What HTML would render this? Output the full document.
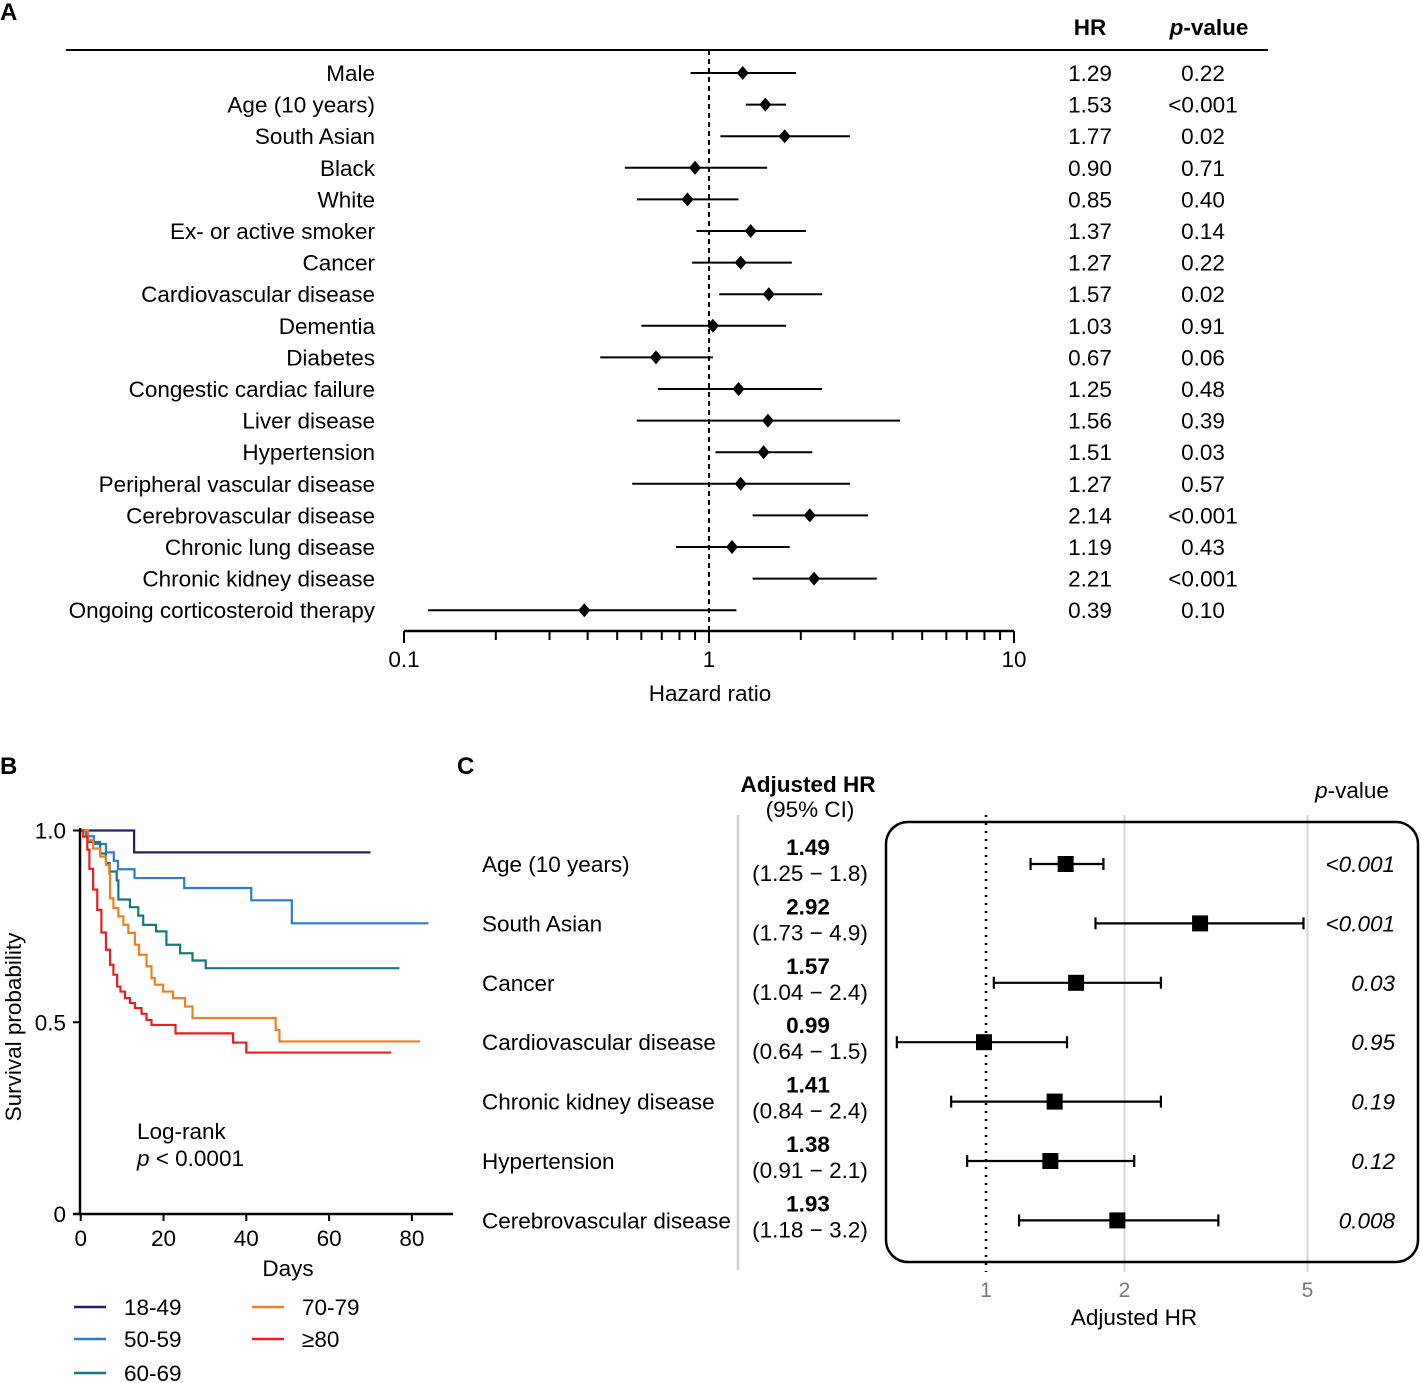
<!DOCTYPE html>
<html><head><meta charset="utf-8"><style>
body{margin:0;background:#fff}
svg{display:block;font-family:"Liberation Sans",Arial,sans-serif}
</style></head><body>
<svg id="fig" width="1421" height="1383" viewBox="0 0 1421 1383" xmlns="http://www.w3.org/2000/svg">
<g id="pa"></g>
<g id="pb"></g>
<g id="pc"></g>
</svg>
<script>
// Panel A data
const aLabels=["Male","Age (10 years)","South Asian","Black","White","Ex- or active smoker","Cancer","Cardiovascular disease","Dementia","Diabetes","Congestic cardiac failure","Liver disease","Hypertension","Peripheral vascular disease","Cerebrovascular disease","Chronic lung disease","Chronic kidney disease","Ongoing corticosteroid therapy"];
const aHR=[1.29,1.53,1.77,0.90,0.85,1.37,1.27,1.57,1.03,0.67,1.25,1.56,1.51,1.27,2.14,1.19,2.21,0.39];
const aLo=[0.87,1.32,1.09,0.53,0.58,0.91,0.88,1.08,0.60,0.44,0.68,0.58,1.05,0.56,1.39,0.78,1.39,0.12];
const aHi=[1.93,1.79,2.9,1.55,1.25,2.08,1.87,2.35,1.79,1.03,2.35,4.23,2.18,2.9,3.32,1.84,3.55,1.23];
const aHRtxt=["1.29","1.53","1.77","0.90","0.85","1.37","1.27","1.57","1.03","0.67","1.25","1.56","1.51","1.27","2.14","1.19","2.21","0.39"];
const aP=["0.22","<0.001","0.02","0.71","0.40","0.14","0.22","0.02","0.91","0.06","0.48","0.39","0.03","0.57","<0.001","0.43","<0.001","0.10"];
const aTicks=[0.1,1,10];

// Panel B data
const bGroups=["18-49","50-59","60-69","70-79","≥80"];
const bColors=["#2b1d5c","#2c7bd0","#15797c","#f07f22","#ee1c1c"];
const bT=[
 [0,12.9,70],
 [0,1.3,3.2,6.1,8,9,13,25,41.2,51,84],
 [0,1.7,4.7,6.1,7,8.7,9.1,11.9,13.9,15.1,18.2,20.7,24,27,30.2,77],
 [0,1.8,3,4.7,6.1,6.9,7.1,7.9,9.1,10.3,11.5,13.1,14.1,15.9,17.1,17.9,19.9,22.3,25.2,27,47.1,48,82],
 [0,0.6,1.6,2.1,3,4,5,6.1,7.1,7.9,8.8,9.6,10.7,11.9,13.1,14.7,15.9,17.1,22.9,36.8,40,75]
];
const bS=[
 [1,0.943,0.943],
 [1,0.985,0.965,0.943,0.921,0.899,0.876,0.85,0.818,0.758,0.758],
 [1,0.97,0.94,0.915,0.893,0.87,0.82,0.8,0.778,0.754,0.737,0.702,0.68,0.661,0.641,0.641],
 [1,0.975,0.953,0.932,0.91,0.888,0.823,0.798,0.776,0.754,0.733,0.702,0.676,0.646,0.615,0.598,0.58,0.563,0.541,0.511,0.48,0.45,0.45],
 [1,0.984,0.95,0.9,0.846,0.793,0.734,0.689,0.65,0.624,0.593,0.58,0.563,0.55,0.537,0.522,0.506,0.493,0.471,0.447,0.421,0.421]
];
const bXTicks=[0,20,40,60,80];
const bYTicks=[0,0.5,1.0];
const bYTickLabels=["0","0.5","1.0"];

// Panel C data
const cLabels=["Age (10 years)","South Asian","Cancer","Cardiovascular disease","Chronic kidney disease","Hypertension","Cerebrovascular disease"];
const cHR=[1.49,2.92,1.57,0.99,1.41,1.38,1.93];
const cLo=[1.25,1.73,1.04,0.64,0.84,0.91,1.18];
const cHi=[1.8,4.9,2.4,1.5,2.4,2.1,3.2];
const cHRtxt=["1.49","2.92","1.57","0.99","1.41","1.38","1.93"];
const cCItxt=["(1.25 − 1.8)","(1.73 − 4.9)","(1.04 − 2.4)","(0.64 − 1.5)","(0.84 − 2.4)","(0.91 − 2.1)","(1.18 − 3.2)"];
const cP=["<0.001","<0.001","0.03","0.95","0.19","0.12","0.008"];
const cTicks=[1,2,5];

const FS=22.5;
const NS="http://www.w3.org/2000/svg";
function mk(parent,tag,attrs,text){const e=document.createElementNS(NS,tag);for(const k in attrs)e.setAttribute(k,attrs[k]);if(text!==undefined)e.textContent=text;parent.appendChild(e);return e;}

// ---------- Panel A ----------
const pa=document.getElementById('pa');
const ax=v=>709+305*Math.log10(v);
const ay=i=>73+i*31.6;
let e;
e=mk(pa,'text',{x:0,y:20,'font-size':24,'font-weight':'bold'},'A');


e=mk(pa,'line',{x1:66,y1:50,x2:1268,y2:50,stroke:'#000','stroke-width':2});


e=mk(pa,'text',{x:1090,y:35,'font-size':FS,'font-weight':'bold','text-anchor':'middle'},'HR');


e=mk(pa,'text',{x:1209,y:35,'font-size':FS,'font-weight':'bold','text-anchor':'middle'});


mk(e,'tspan',{'font-style':'italic'},'p');mk(e,'tspan',{},'-value');
e=mk(pa,'line',{x1:ax(1),y1:50,x2:ax(1),y2:630,stroke:'#000','stroke-width':2,'stroke-dasharray':'5,4'});


aLabels.forEach((l,i)=>{
  const y=ay(i);
  e=mk(pa,'text',{x:375,y:y+8,'font-size':FS,'text-anchor':'end'},l);
  
  
  e=mk(pa,'line',{x1:ax(aLo[i]),y1:y,x2:ax(aHi[i]),y2:y,stroke:'#000','stroke-width':2});
  
  
  const cx=ax(aHR[i]);
  e=mk(pa,'path',{d:`M${cx-6},${y} L${cx},${y-7} L${cx+6},${y} L${cx},${y+7} Z`,fill:'#000'});
  
  
  e=mk(pa,'text',{x:1090,y:y+8,'font-size':FS,'text-anchor':'middle'},aHRtxt[i]);
  
  
  e=mk(pa,'text',{x:1203,y:y+8,'font-size':FS,'text-anchor':'middle'},aP[i]);
  
  
});
e=mk(pa,'line',{x1:ax(0.1),y1:631,x2:ax(10),y2:631,stroke:'#000','stroke-width':2.5});


for(let d=0.1;d<10;d*=10){for(let k=1;k<=10;k++){const v=d*k;const x=ax(v);const major=(k===1||k===10);
  e=mk(pa,'line',{x1:x,y1:631,x2:x,y2:major?643:640,stroke:'#000','stroke-width':2});
  
  }}
aTicks.forEach(t=>{e=mk(pa,'text',{x:ax(t),y:667,'font-size':FS,'text-anchor':'middle'},String(t));
  
  });
e=mk(pa,'text',{x:710,y:701,'font-size':FS,'text-anchor':'middle'},'Hazard ratio');



// ---------- Panel B ----------
const pb=document.getElementById('pb');
const bx=d=>80.7+4.14*d;
const by=s=>1214-383.5*s;
e=mk(pb,'text',{x:0,y:774,'font-size':24,'font-weight':'bold'},'B');


bGroups.forEach((g,gi)=>{
  const T=bT[gi],S=bS[gi];let d=`M${bx(T[0])},${by(S[0])}`;
  for(let k=1;k<T.length;k++){d+=` H${bx(T[k])} V${by(S[k])}`;}
  e=mk(pb,'path',{d:d,fill:'none',stroke:bColors[gi],'stroke-width':2.2});
  
  
});
e=mk(pb,'line',{x1:80,y1:828,x2:80,y2:1215,stroke:'#000','stroke-width':2.5});


e=mk(pb,'line',{x1:73,y1:1214,x2:453,y2:1214,stroke:'#000','stroke-width':2.5});


bXTicks.forEach(t=>{
  e=mk(pb,'line',{x1:bx(t),y1:1214,x2:bx(t),y2:1221,stroke:'#000','stroke-width':2});
  
  
  e=mk(pb,'text',{x:bx(t),y:1246,'font-size':FS,'text-anchor':'middle'},String(t));
  
  
});
bYTicks.forEach((t,i)=>{
  e=mk(pb,'line',{x1:73,y1:by(t),x2:80,y2:by(t),stroke:'#000','stroke-width':2});
  
  
  e=mk(pb,'text',{x:66,y:by(t)+8,'font-size':FS,'text-anchor':'end'},bYTickLabels[i]);
  
  
});
e=mk(pb,'text',{x:288,y:1276,'font-size':FS,'text-anchor':'middle'},'Days');


e=mk(pb,'text',{x:0,y:0,'font-size':FS,'text-anchor':'middle',transform:'translate(21,1027) rotate(-90)'},'Survival probability');


e=mk(pb,'text',{x:137,y:1139,'font-size':FS},'Log-rank');


e=mk(pb,'text',{x:137,y:1166,'font-size':FS});


mk(e,'tspan',{'font-style':'italic'},'p');mk(e,'tspan',{},' < 0.0001');
const legPos=[[74,1307],[74,1339],[74,1373],[252,1307],[252,1339]];
bGroups.forEach((g,gi)=>{
  const [lx,ly]=legPos[gi];
  e=mk(pb,'line',{x1:lx,y1:ly,x2:lx+32,y2:ly,stroke:bColors[gi],'stroke-width':2.5});
  
  
  e=mk(pb,'text',{x:lx+50,y:ly+8,'font-size':FS},g);
  
  
});

// ---------- Panel C ----------
const pc=document.getElementById('pc');
const cx=v=>986+460*Math.log10(v);
const cy=i=>864+i*59.4;
e=mk(pc,'text',{x:457,y:774,'font-size':24,'font-weight':'bold'},'C');


e=mk(pc,'text',{x:808,y:792,'font-size':FS,'font-weight':'bold','text-anchor':'middle'},'Adjusted HR');


e=mk(pc,'text',{x:810,y:817,'font-size':FS,'text-anchor':'middle'},'(95% CI)');


e=mk(pc,'text',{x:1352,y:798,'font-size':FS,'text-anchor':'middle'});


mk(e,'tspan',{'font-style':'italic'},'p');mk(e,'tspan',{},'-value');
e=mk(pc,'line',{x1:738,y1:815,x2:738,y2:1270,stroke:'#d0d0d0','stroke-width':2.5});


[2,5].forEach(t=>{e=mk(pc,'line',{x1:cx(t),y1:815,x2:cx(t),y2:1272,stroke:'#d8d8d8','stroke-width':2});
  
  });
e=mk(pc,'line',{x1:cx(1),y1:815,x2:cx(1),y2:1272,stroke:'#000','stroke-width':2.5,'stroke-dasharray':'2,6'});


e=mk(pc,'rect',{x:886,y:822,width:532,height:440,rx:22,fill:'none',stroke:'#000','stroke-width':2.5});


cLabels.forEach((l,i)=>{
  const y=cy(i);
  e=mk(pc,'text',{x:482,y:y+8,'font-size':FS},l);
  
  
  e=mk(pc,'text',{x:808,y:y-9,'font-size':FS,'font-weight':'bold','text-anchor':'middle'},cHRtxt[i]);
  
  
  e=mk(pc,'text',{x:810,y:y+17,'font-size':FS,'text-anchor':'middle'},cCItxt[i]);
  
  
  const x1=cx(cLo[i]),x2=cx(cHi[i]);
  e=mk(pc,'path',{d:`M${x1},${y} H${x2} M${x1},${y-6} V${y+6} M${x2},${y-6} V${y+6}`,stroke:'#000','stroke-width':2.2,fill:'none'});
  
  
  e=mk(pc,'rect',{x:cx(cHR[i])-8,y:y-8,width:16,height:16,fill:'#000'});
  
  
  e=mk(pc,'text',{x:1395,y:y+8,'font-size':FS,'font-style':'italic','text-anchor':'end'},cP[i]);
  
  
});
cTicks.forEach(t=>{e=mk(pc,'text',{x:cx(t),y:1297,'font-size':21,fill:'#777','text-anchor':'middle'},String(t));
  
  });
e=mk(pc,'text',{x:1134,y:1325,'font-size':FS,'text-anchor':'middle'},'Adjusted HR');


</script>
</body></html>
